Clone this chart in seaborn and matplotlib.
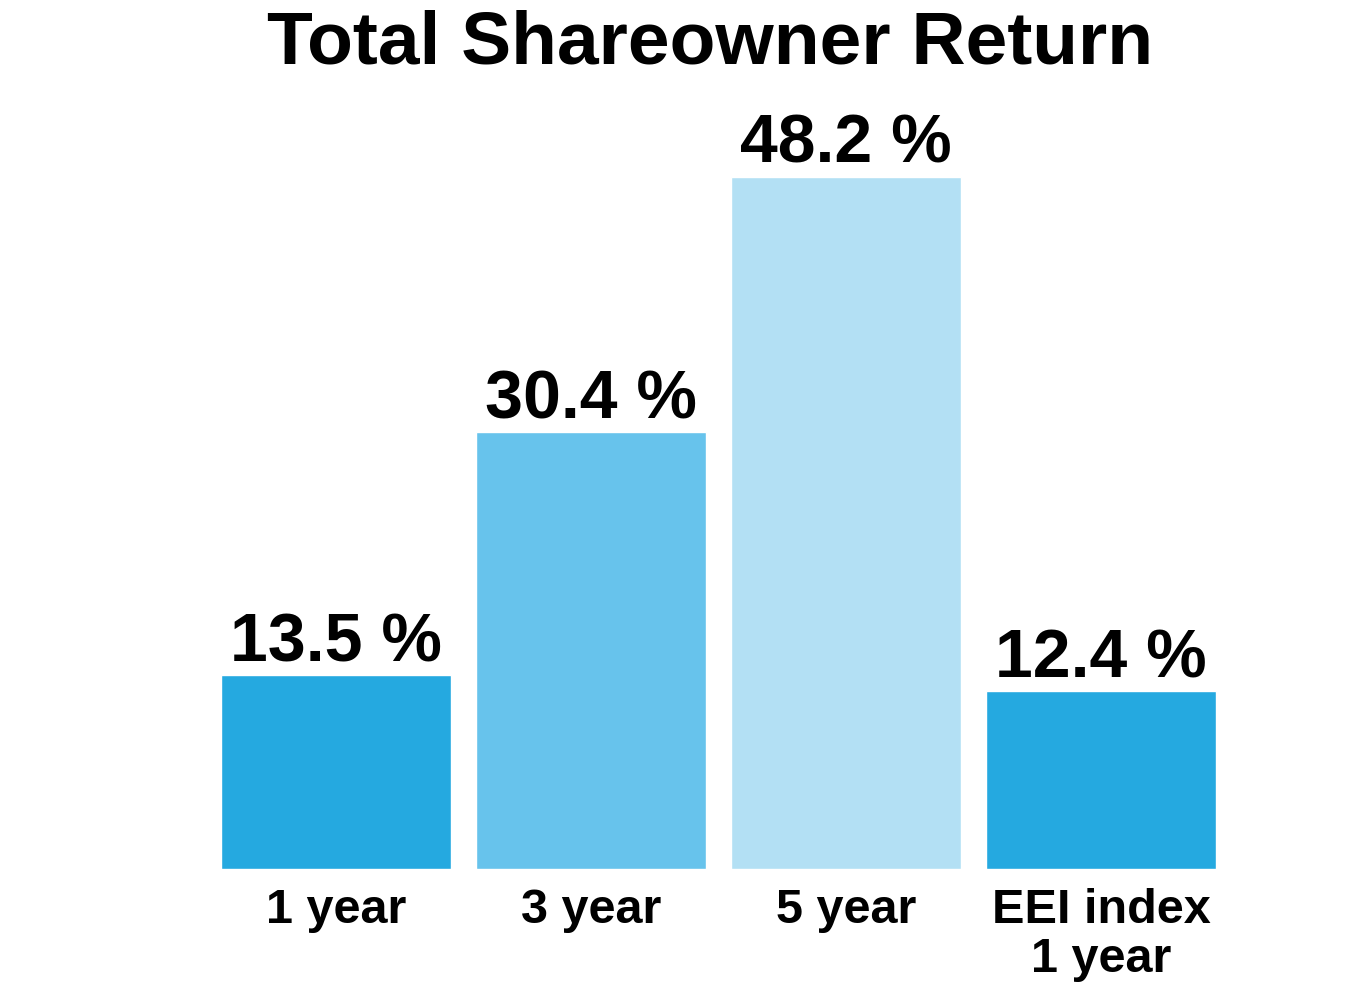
import matplotlib
matplotlib.use("Agg")
import matplotlib.pyplot as plt
import seaborn as sns
import pandas as pd

categories = ["1 year", "3 year", "5 year", "EEI index\n1 year"]
values = [13.5, 30.4, 48.2, 12.4]
value_labels = ["13.5 %", "30.4 %", "48.2 %", "12.4 %"]
colors = ["#25A9E0", "#67C3EC", "#B3E0F4", "#25A9E0"]
title = "Total Shareowner Return"

sns.set_theme(style="white")
plt.rcParams["font.family"] = ["Liberation Sans", "DejaVu Sans"]

df = pd.DataFrame({"cat": categories, "val": values})

fig = plt.figure(figsize=(13.57, 9.83), dpi=100)
W, H = 1357, 983
ax = fig.add_axes([208.5 / W, (983 - 869) / H, 1020 / W, (869 - 79) / H])

sns.barplot(data=df, x="cat", y="val", hue="cat", palette=colors, order=categories,
            hue_order=categories, width=0.9, legend=False, ax=ax, saturation=1)

ax.set_xlim(-0.5, 3.5)
ax.set_ylim(0, 55)
ax.set_xlabel("")
ax.set_ylabel("")
ax.set_yticks([])
for s in ax.spines.values():
    s.set_visible(False)
ax.tick_params(axis="x", length=0, pad=14)
ax.set_xticks(range(len(categories)))
ax.set_xticklabels(categories, fontsize=35, fontweight="bold", color="black",
                   linespacing=1.1, ha="center")

for i, (v, lab) in enumerate(zip(values, value_labels)):
    ax.annotate(lab, (i, v), xytext=(0, 10), textcoords="offset points",
                ha="center", va="baseline", fontsize=49, fontweight="bold", color="black")

fig.text(710 / W, 1 - 63 / H, title, ha="center", va="baseline",
         fontsize=54, fontweight="bold", color="black")

fig.savefig("out.png", dpi=100, facecolor="white")
